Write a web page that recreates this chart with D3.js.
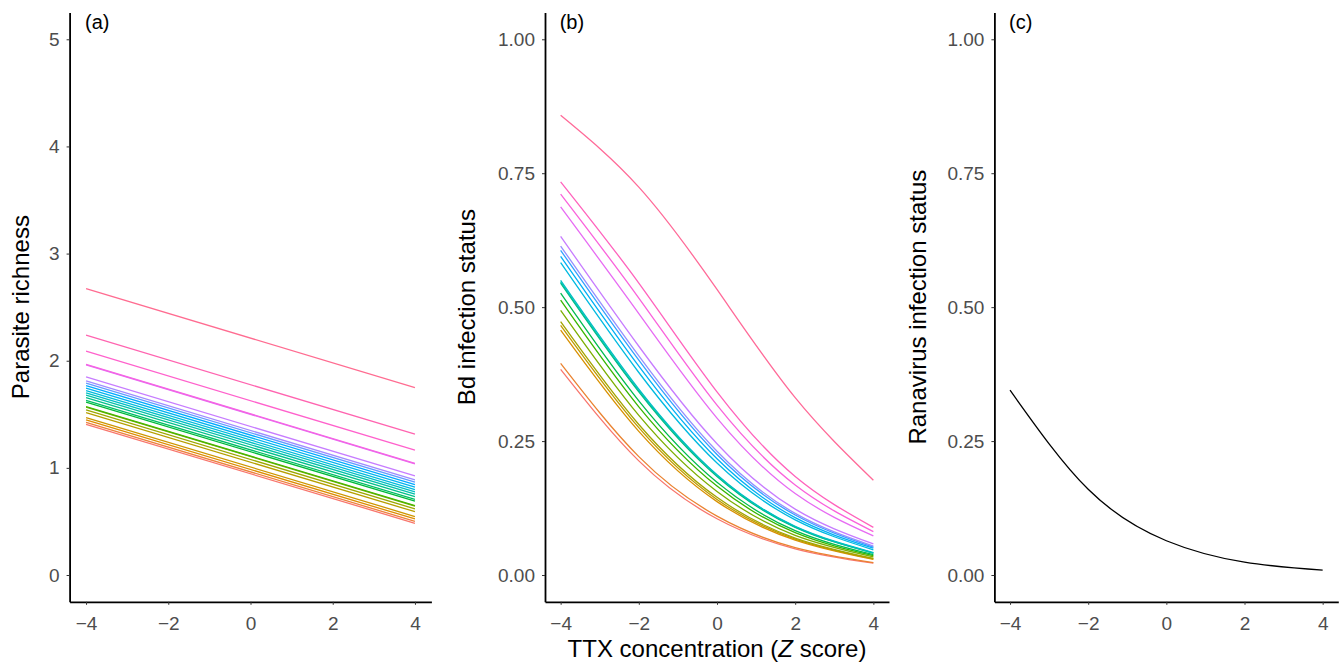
<!DOCTYPE html>
<html>
<head>
<meta charset="utf-8">
<script src="https://cdn.jsdelivr.net/npm/d3@7"></script>
<style>
  body { margin: 0; background: #fff; }
  text { font-family: "Liberation Sans", Arial, Helvetica, sans-serif; }
</style>
</head>
<body>
<svg id="chart" width="1343" height="671"></svg>
<script>
// TTX concentration (Z score) positions where values were read
const ttxEnds = [-4, 4];
const ttxGrid = [-4, -2, 0, 2, 4];
const xTicks = [-4, -2, 0, 2, 4];
const richTicks = [0, 1, 2, 3, 4, 5];
const probTicks = [0, 0.25, 0.5, 0.75, 1];

// (a) parasite richness per population, at TTX = -4 and TTX = 4
const richAtLow = [1.407, 1.425, 1.447, 1.470, 1.515, 1.541, 1.568, 1.572, 1.613, 1.630, 1.655, 1.678,
                   1.700, 1.722, 1.745, 1.768, 1.790, 1.811, 1.849, 1.962, 1.966, 2.089, 2.238, 2.673];
const richAtHigh = [0.483, 0.501, 0.523, 0.546, 0.591, 0.617, 0.644, 0.648, 0.689, 0.706, 0.731, 0.754,
                    0.776, 0.798, 0.821, 0.844, 0.866, 0.887, 0.925, 1.038, 1.042, 1.165, 1.314, 1.749];

// (b) Bd infection probability per population at TTX = -4, -2, 0, 2, 4
const bdCurves = [
  [0.384, 0.213, 0.105, 0.049, 0.022],
  [0.395, 0.221, 0.110, 0.051, 0.023],
  [0.457, 0.268, 0.137, 0.065, 0.029],
  [0.466, 0.275, 0.141, 0.067, 0.030],
  [0.473, 0.281, 0.145, 0.069, 0.031],
  [0.494, 0.298, 0.156, 0.074, 0.034],
  [0.513, 0.314, 0.166, 0.079, 0.036],
  [0.526, 0.325, 0.173, 0.083, 0.038],
  [0.545, 0.342, 0.184, 0.089, 0.041],
  [0.547, 0.344, 0.186, 0.090, 0.041],
  [0.550, 0.347, 0.187, 0.091, 0.042],
  [0.583, 0.378, 0.209, 0.103, 0.047],
  [0.595, 0.390, 0.217, 0.107, 0.050],
  [0.606, 0.401, 0.225, 0.112, 0.052],
  [0.614, 0.409, 0.231, 0.115, 0.054],
  [0.632, 0.427, 0.245, 0.123, 0.058],
  [0.687, 0.488, 0.293, 0.152, 0.073],
  [0.711, 0.517, 0.317, 0.168, 0.081],
  [0.734, 0.545, 0.342, 0.184, 0.089],
  [0.858, 0.724, 0.533, 0.331, 0.177]
];

// (c) Ranavirus infection probability at TTX = -4, -2, 0, 2, 4
const ranaCurve = [0.345, 0.160, 0.064, 0.024, 0.009];

// ggplot-style hue palette (polar Luv, c = 100, l = 65)
function luvHex(H, C, L) {
  const h = H * Math.PI / 180;
  const U = C * Math.cos(h), V = C * Math.sin(h);
  const Xn = 95.047, Yn = 100, Zn = 108.883;
  const den = Xn + 15 * Yn + 3 * Zn;
  const un = 4 * Xn / den, vn = 9 * Yn / den;
  const Y = Yn * (L > 8 ? Math.pow((L + 16) / 116, 3) : L / 903.3);
  const u = U / (13 * L) + un, v = V / (13 * L) + vn;
  const X = Y * 9 * u / (4 * v);
  const Z = Y * (12 - 3 * u - 20 * v) / (4 * v);
  const x = X / 100, y = Y / 100, z = Z / 100;
  const r = 3.240479 * x - 1.537150 * y - 0.498535 * z;
  const g = -0.969256 * x + 1.875992 * y + 0.041556 * z;
  const b = 0.055648 * x - 0.204043 * y + 1.057311 * z;
  const gam = t => {
    t = t <= 0.0031308 ? 12.92 * t : 1.055 * Math.pow(t, 1 / 2.4) - 0.055;
    return Math.round(255 * Math.max(0, Math.min(1, t)));
  };
  return d3.rgb(gam(r), gam(g), gam(b)).formatHex();
}
const huePal = n => d3.range(n).map(i => luvHex(15 + 360 * i / n, 100, 65));

const svg = d3.select('#chart');
const plotTop = 12.5, plotBottom = 601.8;

const panels = [
  { tag: '(a)', left: 69.6, right: 431.4, yDomain: [-0.25, 5.25], ticks: richTicks, fmt: d3.format('d'),
    title: 'Parasite richness', titleX: 21 },
  { tag: '(b)', left: 545, right: 889, yDomain: [-0.05, 1.05], ticks: probTicks, fmt: d3.format('.2f'),
    title: 'Bd infection status', titleX: 467 },
  { tag: '(c)', left: 994.4, right: 1338.3, yDomain: [-0.05, 1.05], ticks: probTicks, fmt: d3.format('.2f'),
    title: 'Ranavirus infection status', titleX: 918 }
];

panels.forEach(p => {
  p.x = d3.scaleLinear().domain([-4.4, 4.4]).range([p.left, p.right]);
  p.y = d3.scaleLinear().domain(p.yDomain).range([plotBottom, plotTop]);
  const g = svg.append('g');

  const yAxis = g.append('g')
    .attr('transform', `translate(${p.left},0)`)
    .call(d3.axisLeft(p.y).tickValues(p.ticks).tickFormat(p.fmt).tickSize(3).tickPadding(7).tickSizeOuter(0));
  const xAxis = g.append('g')
    .attr('transform', `translate(0,${plotBottom})`)
    .call(d3.axisBottom(p.x).tickValues(xTicks).tickSize(3).tickPadding(12).tickSizeOuter(0));

  [yAxis, xAxis].forEach(ax => {
    ax.select('.domain').attr('stroke', '#000').attr('stroke-width', 1.8);
    ax.selectAll('.tick line').attr('stroke', '#333').attr('stroke-width', 1);
    ax.selectAll('.tick text').attr('fill', '#4d4d4d').style('font-size', '19px');
  });

  g.append('text')
    .attr('x', p.x(-4) - 1)
    .attr('y', 29)
    .style('font-size', '20px')
    .text(p.tag);

  g.append('text')
    .attr('transform', `translate(${p.titleX},${(plotTop + plotBottom) / 2}) rotate(-90)`)
    .attr('text-anchor', 'middle')
    .attr('dy', '0.35em')
    .style('font-size', '24px')
    .text(p.title);
});

const line = (xs, ys) => d3.line()
  .x(d => xs(d[0]))
  .y(d => ys(d[1]));

// (a) straight lines
const pa = panels[0];
const colA = huePal(richAtLow.length);
richAtLow.forEach((v, i) => {
  svg.append('path')
    .datum([[ttxEnds[0], v], [ttxEnds[1], richAtHigh[i]]])
    .attr('fill', 'none')
    .attr('stroke', colA[i])
    .attr('stroke-width', 1.3)
    .attr('d', line(pa.x, pa.y));
});

// (b) curves
const pb = panels[1];
const colB = huePal(bdCurves.length);
bdCurves.forEach((vals, i) => {
  svg.append('path')
    .datum(vals.map((v, j) => [ttxGrid[j], v]))
    .attr('fill', 'none')
    .attr('stroke', colB[i])
    .attr('stroke-width', 1.3)
    .attr('d', line(pb.x, pb.y).curve(d3.curveNatural));
});

// (c) single curve
const pc = panels[2];
svg.append('path')
  .datum(ranaCurve.map((v, j) => [ttxGrid[j], v]))
  .attr('fill', 'none')
  .attr('stroke', '#000')
  .attr('stroke-width', 1.3)
  .attr('d', line(pc.x, pc.y).curve(d3.curveNatural));

// shared x title
const xt = svg.append('text')
  .attr('x', 717)
  .attr('y', 657)
  .attr('text-anchor', 'middle')
  .style('font-size', '24px');
xt.append('tspan').text('TTX concentration (');
xt.append('tspan').style('font-style', 'italic').text('Z');
xt.append('tspan').text(' score)');
</script>
</body>
</html>
